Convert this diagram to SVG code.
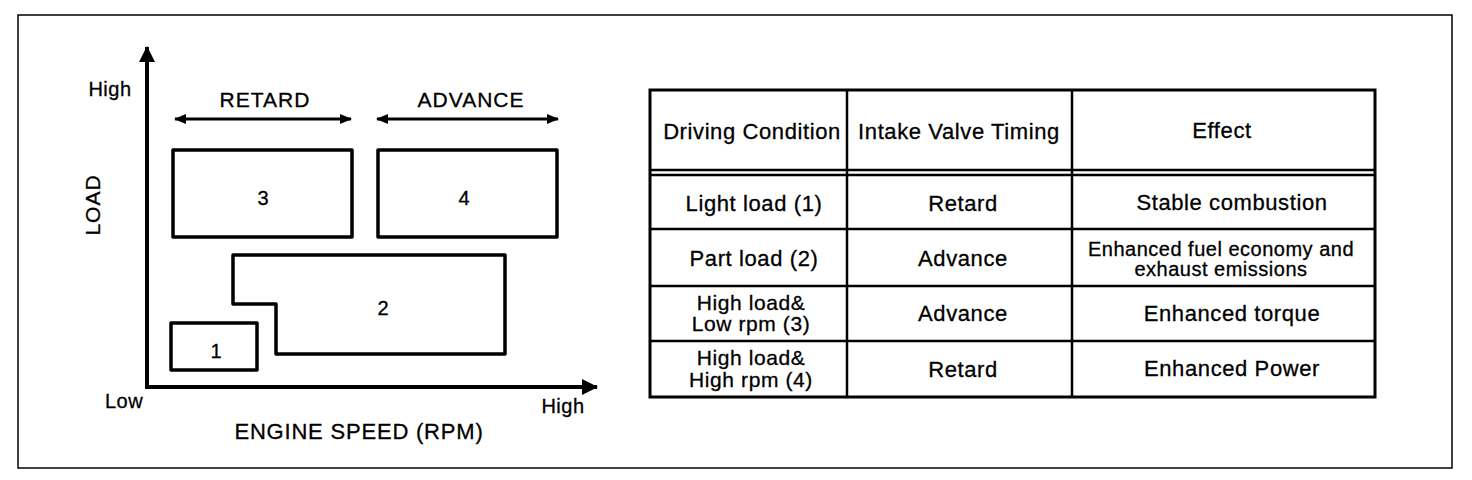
<svg xmlns="http://www.w3.org/2000/svg" width="1472" height="480" viewBox="0 0 1472 480">
<style>
text{font-family:"Liberation Sans",Arial,sans-serif;fill:#000;stroke:#000;stroke-width:0.3}
.t{font-size:22px;text-anchor:middle;letter-spacing:0.6px}
.m{font-size:21px;text-anchor:middle;letter-spacing:0.6px}
.s{font-size:20px;text-anchor:middle;letter-spacing:0.5px}
.c{font-size:21px;text-anchor:middle;letter-spacing:1px}
.n{font-size:20px;text-anchor:middle}
.box{fill:none;stroke:#000;stroke-width:3.5;stroke-linejoin:round}
.ax{fill:none;stroke:#000;stroke-width:4}
.arr{fill:none;stroke:#000;stroke-width:3}
.tb{fill:none;stroke:#000;stroke-width:3}
.tl{stroke:#000;stroke-width:2.5}
</style>
<defs>
<marker id="ah" viewBox="0 0 12 12" refX="11" refY="6" markerWidth="12" markerHeight="12" markerUnits="userSpaceOnUse" orient="auto-start-reverse"><path d="M0,1 L12,6 L0,11 Z" fill="#000"/></marker>
<marker id="axh" viewBox="0 0 16 16" refX="15" refY="8" markerWidth="16" markerHeight="16" markerUnits="userSpaceOnUse" orient="auto"><path d="M0,0 L16,8 L0,16 Z" fill="#000"/></marker>
</defs>
<rect x="18" y="15" width="1434" height="453" fill="#fff" stroke="#000" stroke-width="1.5"/>

<g id="connectors">
<path class="ax" d="M147,387 H597" marker-end="url(#axh)"/>
<path class="ax" d="M147,389 V47" marker-end="url(#axh)"/>
<line class="arr" x1="175" y1="119" x2="351" y2="119" marker-start="url(#ah)" marker-end="url(#ah)"/>
<line class="arr" x1="377" y1="119" x2="558" y2="119" marker-start="url(#ah)" marker-end="url(#ah)"/>
</g>

<g id="axis-labels">
<text x="110" y="96" class="n" letter-spacing="0.5">High</text>
<text x="124" y="408" class="n" letter-spacing="0.5">Low</text>
<text x="563" y="413" class="n" letter-spacing="0.5">High</text>
<text x="359" y="439" font-size="22" text-anchor="middle" letter-spacing="0.8">ENGINE SPEED (RPM)</text>
<text transform="translate(100,205) rotate(-90)" class="c">LOAD</text>
<text x="265" y="107" class="c">RETARD</text>
<text x="471" y="107" class="c">ADVANCE</text>
</g>

<g id="region-3"><rect class="box" x="173" y="150" width="179" height="87"/><text x="263" y="205" class="n">3</text></g>
<g id="region-4"><rect class="box" x="378" y="150" width="179" height="87"/><text x="464" y="205" class="n">4</text></g>
<g id="region-2"><path class="box" d="M233,255 H505 V354 H276 V304 H233 Z"/><text x="383" y="315" class="n">2</text></g>
<g id="region-1"><rect class="box" x="171" y="323" width="86" height="47"/><text x="216" y="358" class="n">1</text></g>

<g id="table">
<rect class="tb" x="650" y="90" width="725" height="307"/>
<line class="tl" x1="847" y1="90" x2="847" y2="397"/>
<line class="tl" x1="1072" y1="90" x2="1072" y2="397"/>
<line class="tl" x1="650" y1="170" x2="1375" y2="170"/>
<line class="tl" x1="650" y1="175" x2="1375" y2="175"/>
<line class="tl" x1="650" y1="229" x2="1375" y2="229"/>
<line class="tl" x1="650" y1="286" x2="1375" y2="286"/>
<line class="tl" x1="650" y1="341" x2="1375" y2="341"/>
<text class="t" x="752" y="139">Driving Condition</text>
<text class="t" x="959" y="139">Intake Valve Timing</text>
<text class="t" x="1222" y="138">Effect</text>
<text class="t" x="754" y="211">Light load (1)</text>
<text class="t" x="963" y="211">Retard</text>
<text class="t" x="1232" y="210">Stable combustion</text>
<text class="t" x="754" y="266">Part load (2)</text>
<text class="t" x="963" y="266">Advance</text>
<text class="s" x="1221" y="256">Enhanced fuel economy and</text>
<text class="s" x="1221" y="276">exhaust emissions</text>
<text class="m" x="751" y="310">High load&amp;</text>
<text class="m" x="751" y="331">Low rpm (3)</text>
<text class="t" x="963" y="321">Advance</text>
<text class="t" x="1232" y="321">Enhanced torque</text>
<text class="m" x="751" y="365">High load&amp;</text>
<text class="m" x="751" y="387">High rpm (4)</text>
<text class="t" x="963" y="377">Retard</text>
<text class="t" x="1232" y="376">Enhanced Power</text>
</g>
</svg>
